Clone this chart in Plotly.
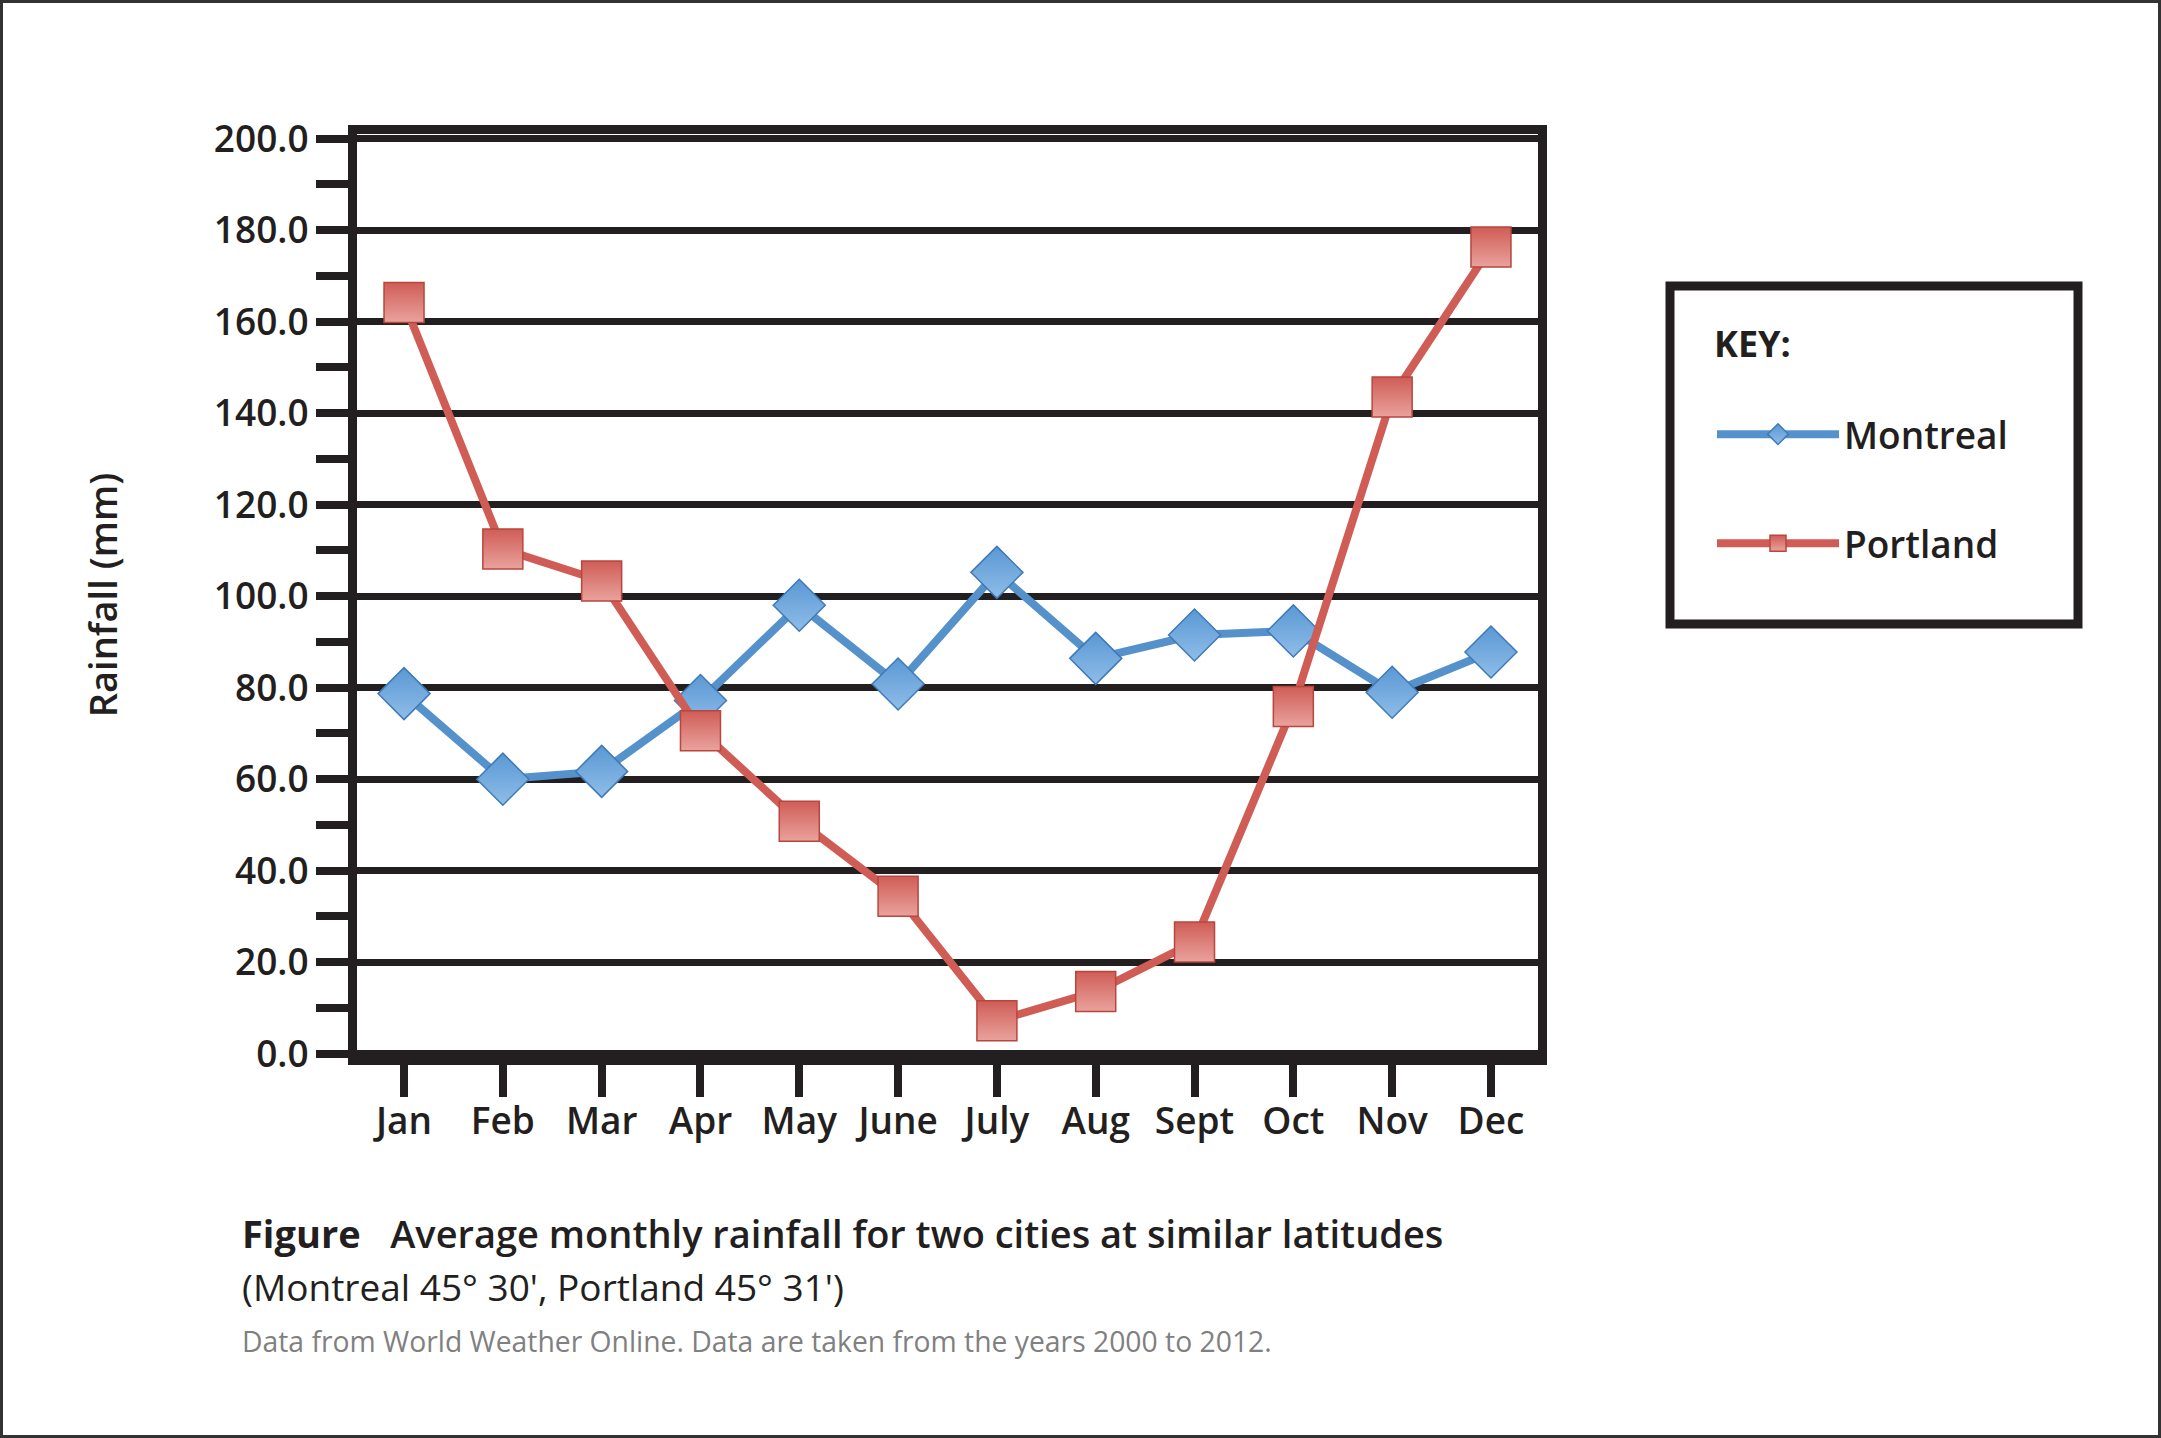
import plotly.graph_objects as go

months = ["Jan", "Feb", "Mar", "Apr", "May", "June", "July", "Aug", "Sept", "Oct", "Nov", "Dec"]
montreal = [78.7, 60.0, 61.7, 77.2, 98.0, 80.8, 105.2, 86.4, 91.5, 92.4, 79.0, 87.8]
portland = [164.2, 110.3, 103.3, 70.6, 50.8, 34.4, 7.2, 13.6, 24.4, 75.9, 143.5, 176.3]
y_ticks = [0, 20, 40, 60, 80, 100, 120, 140, 160, 180, 200]

W, H = 2161, 1438
L, R, T, B = 357, 623, 134, 382
PW, PH = W - L - R, H - T - B

INK = "#231f20"
FONT = "Open Sans, Noto Sans, sans-serif"


def px(x, y):
    # figure pixels -> paper coordinates
    return (x - L) / PW, (H - B - y) / PH


fig = go.Figure()

fig.add_trace(
    go.Scatter(
        x=months,
        y=montreal,
        name="Montreal",
        legendgroup="m",
        mode="lines+markers",
        line=dict(color="#5592cc", width=8),
        marker=dict(
            symbol="diamond",
            size=40,
            color="#5a98d4",
            gradient=dict(type="vertical", color="#8fbde8"),
            line=dict(color="#3f7ab8", width=1.5),
        ),
    )
)

fig.add_trace(
    go.Scatter(
        x=months,
        y=portland,
        name="Portland",
        legendgroup="p",
        mode="lines+markers",
        line=dict(color="#d05d55", width=8),
        marker=dict(
            symbol="square",
            size=40,
            color="#cf5d56",
            gradient=dict(type="vertical", color="#eaa29d"),
            line=dict(color="#b8463f", width=1.5),
        ),
    )
)

# outer frame of the figure and the key box
fx0, fy0 = px(1.5, H - 1.5)
fx1, fy1 = px(W - 1.5, 1.5)
kx0, ky0 = px(1670, 624)
kx1, ky1 = px(2078, 286)

fig.update_layout(
    width=W,
    height=H,
    margin=dict(l=L, r=R, t=T, b=B),
    paper_bgcolor="white",
    plot_bgcolor="white",
    font=dict(family=FONT, color=INK),
    showlegend=True,
    legend=dict(
        x=px(1712, 0)[0],
        y=px(0, 310)[1],
        xanchor="left",
        yanchor="top",
        bgcolor="rgba(0,0,0,0)",
        borderwidth=0,
        font=dict(size=37, weight=600, color=INK),
        title=dict(text="<b>KEY:</b><br> ", font=dict(size=36, color=INK)),
        tracegroupgap=58,
        itemwidth=122,
    ),
    shapes=[
        dict(type="rect", xref="paper", yref="paper", x0=fx0, x1=fx1, y0=fy0, y1=fy1,
             line=dict(color="#333333", width=3), layer="below"),
        dict(type="rect", xref="paper", yref="paper", x0=kx0, x1=kx1, y0=ky0, y1=ky1,
             line=dict(color=INK, width=9)),
    ],
    annotations=[
        dict(text="<b>Figure</b>   Average monthly rainfall for two cities at similar latitudes",
             xref="paper", yref="paper", x=px(240, 0)[0], y=px(0, 1233)[1],
             xanchor="left", yanchor="middle", showarrow=False,
             font=dict(size=38, weight=600, color=INK)),
        dict(text="(Montreal 45° 30', Portland 45° 31')",
             xref="paper", yref="paper", x=px(240, 0)[0], y=px(0, 1286)[1],
             xanchor="left", yanchor="middle", showarrow=False,
             font=dict(size=37, color=INK)),
        dict(text="Data from World Weather Online. Data are taken from the years 2000 to 2012.",
             xref="paper", yref="paper", x=px(240, 0)[0], y=px(0, 1341)[1],
             xanchor="left", yanchor="middle", showarrow=False,
             font=dict(size=28.3, color="#808080")),
    ],
)

fig.update_xaxes(
    type="category",
    range=[-0.476, 11.476],
    showline=True,
    linecolor=INK,
    linewidth=9,
    mirror=True,
    showgrid=False,
    ticks="outside",
    ticklen=32,
    tickwidth=8,
    tickcolor=INK,
    tickfont=dict(size=37, weight=600, color=INK),
    ticklabelstandoff=-7,
)

fig.update_yaxes(
    range=[-0.5, 201],
    tickvals=y_ticks,
    ticktext=[f"{v:.1f}" for v in y_ticks],
    showline=True,
    linecolor=INK,
    linewidth=9,
    mirror=True,
    showgrid=True,
    gridcolor=INK,
    gridwidth=7,
    zeroline=False,
    ticks="outside",
    ticklen=32,
    tickwidth=8,
    tickcolor=INK,
    tickfont=dict(size=37, weight=600, color=INK),
    minor=dict(dtick=10, tick0=0, ticks="outside", ticklen=32, tickwidth=8, tickcolor=INK, showgrid=False),
    title=dict(text="Rainfall (mm)", font=dict(size=38, weight=600, color=INK), standoff=88),
)

fig.write_html(
    "out.html",
    config={"displayModeBar": False},
    post_script="document.body.style.margin='0';document.body.style.overflow='hidden';",
)
